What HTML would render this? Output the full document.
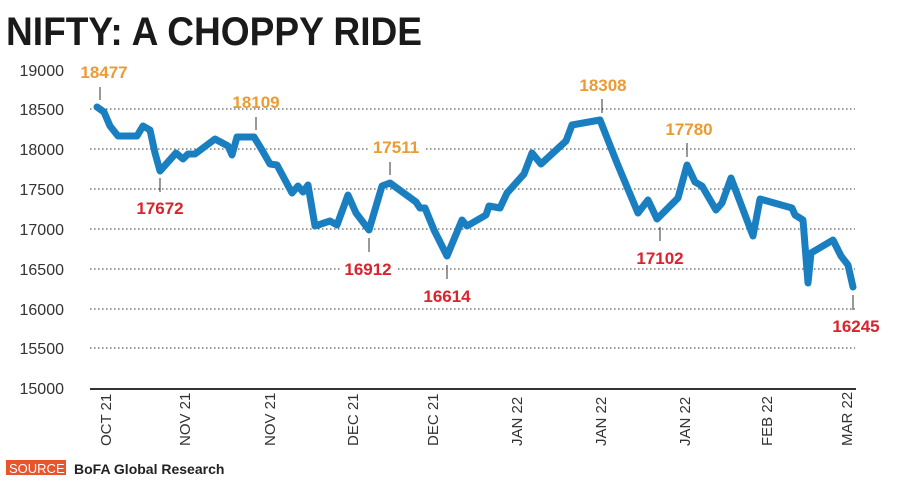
<!DOCTYPE html>
<html><head><style>
body{margin:0;background:#fff;}
svg{display:block;font-family:"Liberation Sans",sans-serif;}
</style></head><body>
<svg width="900" height="492" xmlns="http://www.w3.org/2000/svg">
<text x="6" y="45" font-size="40" font-weight="bold" fill="#1a1a1a" textLength="416" lengthAdjust="spacingAndGlyphs">NIFTY: A CHOPPY RIDE</text>
<g font-size="16" fill="#333" text-anchor="end">
<text x="64" y="76">19000</text><text x="64" y="115">18500</text><text x="64" y="155">18000</text><text x="64" y="195">17500</text><text x="64" y="235">17000</text><text x="64" y="275">16500</text><text x="64" y="315">16000</text><text x="64" y="354">15500</text><text x="64" y="394">15000</text>
</g>
<g stroke="#333" stroke-width="1" stroke-dasharray="1.5,2.5">
<line x1="90" y1="109" x2="855" y2="109"/><line x1="90" y1="149" x2="855" y2="149"/><line x1="90" y1="189" x2="855" y2="189"/><line x1="90" y1="229" x2="855" y2="229"/><line x1="90" y1="269" x2="855" y2="269"/><line x1="90" y1="309" x2="855" y2="309"/><line x1="90" y1="348" x2="855" y2="348"/>
</g>
<line x1="90" y1="389" x2="856" y2="389" stroke="#333" stroke-width="2"/>
<g fill="#fff">
<rect x="370" y="137" width="54" height="20"/><rect x="340" y="258" width="56" height="20"/>
</g>
<g stroke="#333" stroke-width="1">
<line x1="100" y1="87" x2="100" y2="100"/><line x1="160" y1="178" x2="160" y2="192"/><line x1="256" y1="117" x2="256" y2="130"/><line x1="390" y1="162" x2="390" y2="175"/><line x1="369" y1="238" x2="369" y2="252"/><line x1="447" y1="265" x2="447" y2="279"/><line x1="602" y1="99" x2="602" y2="113"/><line x1="687" y1="143" x2="687" y2="157"/><line x1="660" y1="227" x2="660" y2="241"/><line x1="853" y1="295" x2="853" y2="310"/>
</g>
<polyline fill="none" stroke="#1a7fc0" stroke-width="7" stroke-linejoin="round" stroke-linecap="round" points="97,107 104,112 110,126 118,136 137,136 143,126 150,130 155,153 160,171 176,153 183,159 188,154 195,154 215,139 228,146 232,155 237,137 254,137 262,150 270,164 277,165 292,193 298,186 303,192 308,185 315,226 330,221 337,225 348,195 356,213 369,230 382,186 390,183 416,202 420,208 425,208 434,230 447,256 462,220 467,226 486,215 489,206 500,208 507,193 524,174 532,153 541,164 566,141 572,125 600,120 617,163 638,213 648,200 657,219 678,198 687,165 695,182 702,186 716,210 722,203 731,178 753,236 760,199 792,208 795,215 803,220 808,283 811,253 833,240 841,256 848,265 853,287"/>
<g font-size="17" font-weight="bold" text-anchor="middle">
<g fill="#eb9b32">
<text x="104" y="78">18477</text><text x="256" y="108">18109</text><text x="396" y="153">17511</text><text x="603" y="91">18308</text><text x="689" y="135">17780</text>
</g>
<g fill="#d9232d">
<text x="160" y="214">17672</text><text x="368" y="275">16912</text><text x="447" y="302">16614</text><text x="660" y="264">17102</text><text x="856" y="332">16245</text>
</g>
</g>
<g font-size="15" fill="#333">
<text transform="translate(111,446) rotate(-90)">OCT 21</text>
<text transform="translate(190,446) rotate(-90)">NOV 21</text>
<text transform="translate(275,446) rotate(-90)">NOV 21</text>
<text transform="translate(358,446) rotate(-90)">DEC 21</text>
<text transform="translate(438,446) rotate(-90)">DEC 21</text>
<text transform="translate(522,446) rotate(-90)">JAN 22</text>
<text transform="translate(606,446) rotate(-90)">JAN 22</text>
<text transform="translate(690,446) rotate(-90)">JAN 22</text>
<text transform="translate(772,446) rotate(-90)">FEB 22</text>
<text transform="translate(852,446) rotate(-90)">MAR 22</text>
</g>
<rect x="6" y="460" width="60" height="15" fill="#e8542c"/>
<text x="9" y="473" font-size="13" fill="#fff">SOURCE</text>
<text x="74" y="474" font-size="14" font-weight="bold" fill="#222">BoFA Global Research</text>
</svg>
</body></html>
